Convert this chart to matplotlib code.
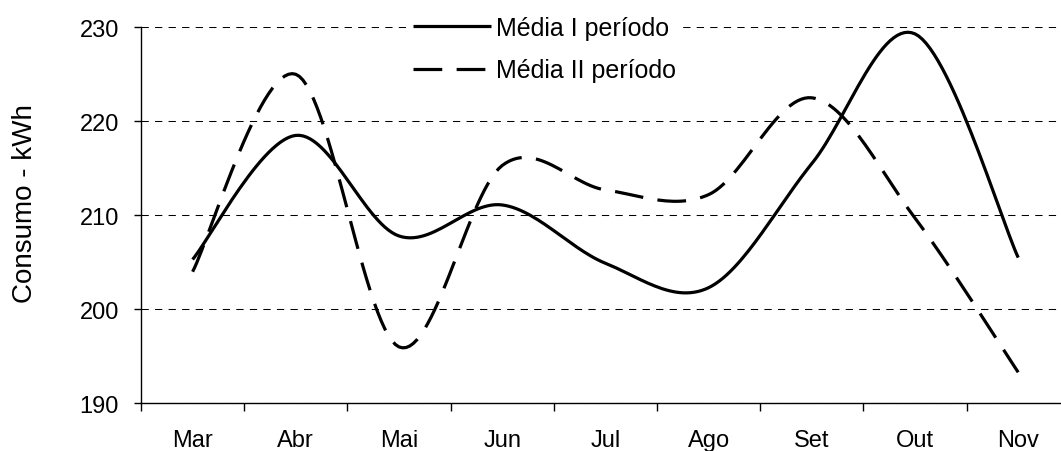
import numpy as np
import matplotlib
matplotlib.use("Agg")
import matplotlib.pyplot as plt

plt.rcParams['font.family'] = ['Liberation Sans', 'DejaVu Sans']

meses = ['Mar', 'Abr', 'Mai', 'Jun', 'Jul', 'Ago', 'Set', 'Out', 'Nov']
media_1 = [205.3, 218.5, 207.8, 211.1, 204.9, 202.3, 215.5, 229.3, 205.5]
media_2 = [204.0, 225.0, 196.0, 215.3, 212.7, 212.2, 222.5, 209.7, 193.3]


def smooth(y, n=30):
    # Excel-style smoothed line: cubic Bezier between points
    x = np.arange(len(y), dtype=float)
    y = np.asarray(y, dtype=float)
    px = np.concatenate([[x[0]], x, [x[-1]]])
    py = np.concatenate([[y[0]], y, [y[-1]]])
    xs, ys = [], []
    t = np.linspace(0, 1, n)
    for i in range(len(y) - 1):
        p0 = np.array([px[i + 1], py[i + 1]])
        p3 = np.array([px[i + 2], py[i + 2]])
        p1 = p0 + (np.array([px[i + 2], py[i + 2]]) - np.array([px[i], py[i]])) / 6
        p2 = p3 - (np.array([px[i + 3], py[i + 3]]) - np.array([px[i + 1], py[i + 1]])) / 6
        b = ((1 - t) ** 3)[:, None] * p0 + (3 * (1 - t) ** 2 * t)[:, None] * p1 \
            + (3 * (1 - t) * t ** 2)[:, None] * p2 + (t ** 3)[:, None] * p3
        xs.extend(b[:, 0])
        ys.extend(b[:, 1])
    return xs, ys


fig = plt.figure(figsize=(10.61, 4.52), dpi=100)
ax = fig.add_axes([0.1329, 0.1055, 0.8754, 0.8319])

x1, y1 = smooth(media_1)
x2, y2 = smooth(media_2)
ax.plot(x1, y1, color='black', lw=2.3, label='Média I período', solid_capstyle='butt')
ax.plot(x2, y2, color='black', lw=2.3, dashes=(9, 4.5), label='Média II período',
        dash_capstyle='butt')

ax.set_xlim(-0.5, len(meses) - 0.5)
ax.set_ylim(190, 230)
ax.set_yticks([190, 200, 210, 220, 230])
ax.set_xticks(range(len(meses)))
ax.set_xticklabels(meses)
ax.set_xticks(np.arange(-0.5, len(meses), 1.0), minor=True)
ax.tick_params(axis='x', which='major', length=0, pad=18.5, labelsize=17)
ax.tick_params(axis='x', which='minor', length=5.5, width=1, direction='out')
ax.tick_params(axis='y', length=5, width=1, pad=11, labelsize=17)

ax.yaxis.grid(True, color='black', lw=0.75, linestyle=(0, (7, 6)))
ax.set_axisbelow(True)
for s in ['top', 'right']:
    ax.spines[s].set_visible(False)
ax.spines['left'].set_linewidth(1)
ax.spines['bottom'].set_linewidth(1)

ax.set_ylabel('Consumo - kWh', fontsize=20, va='center')
ax.yaxis.set_label_coords(-0.125, 0.535)

leg = ax.legend(loc='upper left', bbox_to_anchor=(393 / 1061, 1 + 3 / 452),
                bbox_transform=fig.transFigure, fontsize=18, handlelength=3.1,
                handletextpad=0.2, labelspacing=0.73, borderpad=0.3,
                frameon=True, fancybox=False, framealpha=1, edgecolor='none',
                facecolor='white')

fig.savefig('out.png', dpi=100)
